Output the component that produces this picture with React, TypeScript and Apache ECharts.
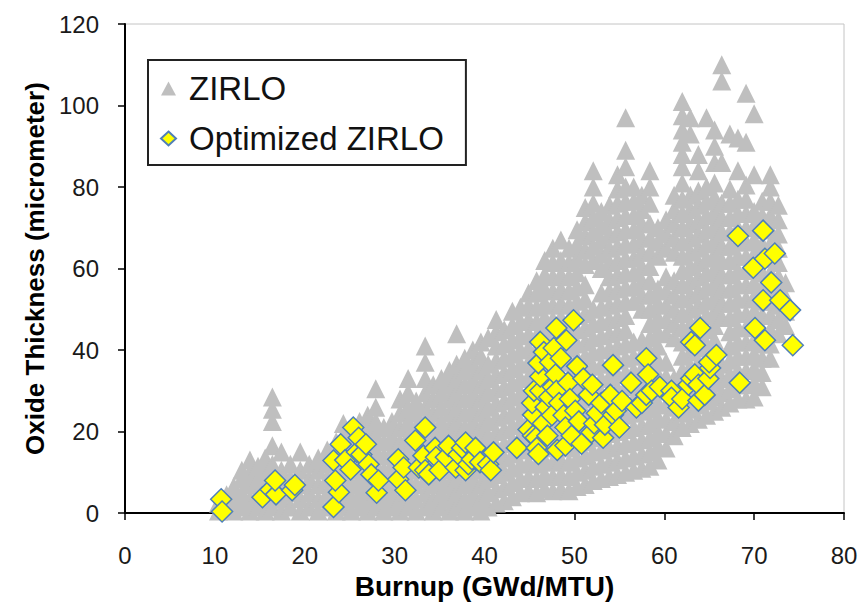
import React, { useEffect, useRef } from 'react'
import * as echarts from 'echarts'

// ZIRLO measurements, one column per burnup value: [burnup, [oxide thickness...]]
const zirloLow: [number, number[]][] = [
  [10.4, [0.5, 2.5]],
  [11.3, [1.5, 4.5]],
  [12.1, [0.5, 3.5, 6.5]],
  [13.0, [1.5, 5, 8.5, 10.5]],
  [13.9, [0.5, 3.5, 7, 10, 13]],
  [14.8, [1.5, 5, 8.5, 11.5]],
  [15.6, [0.5, 3.5, 7, 10, 13.5]],
  [16.4, [1.5, 5, 8.5, 12, 16.5, 22.5, 25.5, 28.5]],
  [17.4, [0.5, 3.5, 7, 10.5, 15]],
  [18.4, [1.5, 5, 8.5, 12]],
  [19.5, [0.5, 3.5, 7, 10.5, 15]],
  [20.5, [1.5, 5, 8.5, 12]],
  [21.5, [0.5, 3.5, 7, 10.5, 13.5]],
  [22.5, [1.5, 5, 8.5, 12, 15.5]],
  [23.5, [0.5, 3.5, 7, 10.5, 14, 17.5]],
  [24.3, [1.5, 5, 8.5, 12, 15.5, 19, 22]],
  [25.2, [0.5, 3.5, 7, 10.5, 14, 17.5, 20.5]],
  [26.1, [1.5, 5, 8.5, 12, 15.5, 19, 22.5]],
  [27.0, [0.5, 3.5, 7, 10.5, 14, 17.5, 21, 24]],
  [27.9, [1.5, 5, 8.5, 12, 15.5, 19, 22.5, 26, 30.5]],
  [28.8, [0.5, 3.5, 7, 10.5, 14, 17.5, 21]],
  [29.7, [1.5, 5, 8.5, 12, 15.5, 19, 22.5]],
]

const zirloMid: [number, number[]][] = [
  [30.6, [0.5, 3.5, 7, 10.5, 14, 17.5, 21, 24.5, 28]],
  [31.5, [1.5, 5, 8.5, 12, 15.5, 19, 22.5, 26, 29.5, 33]],
  [32.4, [0.5, 3.5, 7, 10.5, 14, 17.5, 21, 24.5, 27.5]],
  [33.4, [1.5, 5, 8.5, 12, 15.5, 19, 22.5, 26, 29.5, 33, 37, 41]],
  [34.3, [0.5, 3.5, 7, 10.5, 14, 17.5, 21, 24.5, 28, 31.5]],
  [35.2, [1.5, 5, 8.5, 12, 15.5, 19, 22.5, 26, 29.5, 33]],
  [36.1, [0.5, 3.5, 7, 10.5, 14, 17.5, 21, 24.5, 28, 31.5, 35]],
  [36.9, [1.5, 5, 8.5, 12, 15.5, 19, 22.5, 26, 29.5, 33, 36.5, 44]],
  [37.8, [0.5, 3.5, 7, 10.5, 14, 17.5, 21, 24.5, 28, 31.5, 35, 38]],
  [38.7, [1.5, 5, 8.5, 12, 15.5, 19, 22.5, 26, 29.5, 33, 36.5, 40]],
  [39.6, [0.5, 3.5, 7, 10.5, 14, 17.5, 21, 24.5, 28, 31.5, 35, 38.5, 42]],
  [40.4, [1.5, 5, 8.5, 12, 15.5, 19, 22.5, 26, 29.5, 33, 36.5, 43]],
  [41.3, [2.5, 6, 9.5, 13, 16.5, 20, 23.5, 27, 30.5, 34, 37.5, 41, 44.5, 47.5]],
  [42.2, [3, 6.5, 10, 13.5, 17, 20.5, 24, 27.5, 31, 34.5, 38, 41.5, 45]],
  [43.1, [4, 7.5, 11, 14.5, 18, 21.5, 25, 28.5, 32, 35.5, 39, 42.5, 46, 49.5]],
  [44.0, [5, 8.5, 12, 15.5, 19, 22.5, 26, 29.5, 33, 36.5, 40, 43.5, 47, 50.5]],
  [44.9, [5.5, 9, 12.5, 16, 19.5, 23, 26.5, 30, 33.5, 37, 40.5, 44, 47.5, 51, 54]],
  [45.8, [5, 8.5, 12, 15.5, 19, 22.5, 26, 29.5, 33, 36.5, 40, 43.5, 47, 50.5, 54, 57]],
  [46.7, [6, 9.5, 13, 16.5, 20, 23.5, 27, 30.5, 34, 37.5, 41, 44.5, 48, 51.5, 55, 58.5, 62]],
  [47.6, [5.5, 9, 12.5, 16, 19.5, 23, 26.5, 30, 33.5, 37, 40.5, 44, 47.5, 51, 54.5, 58, 61.5, 65]],
  [48.5, [6, 9.5, 13, 16.5, 20, 23.5, 27, 30.5, 34, 37.5, 41, 44.5, 48, 51.5, 55, 58.5, 62, 67]],
  [49.4, [5.5, 9, 12.5, 16, 19.5, 23, 26.5, 30, 33.5, 37, 40.5, 44, 47.5, 51, 54.5, 58, 61.5, 65]],
]

const zirloHigh: [number, number[]][] = [
  [50.3, [6.5, 10, 13.5, 17, 20.5, 24, 27.5, 31, 34.5, 38, 41.5, 45, 48.5, 52, 55.5, 59, 62.5, 66, 69.5]],
  [51.2, [7, 10.5, 14, 17.5, 21, 24.5, 28, 31.5, 35, 38.5, 42, 45.5, 49, 52.5, 56, 61, 64.5, 68, 71.5, 75]],
  [52.1, [8, 11.5, 15, 18.5, 22, 25.5, 29, 32.5, 36, 39.5, 43, 46.5, 50, 62, 65.5, 69, 72.5, 76, 80, 84]],
  [53.0, [8.5, 12, 15.5, 19, 22.5, 26, 29.5, 33, 36.5, 40, 43.5, 47, 50.5, 54, 60, 63.5, 67, 70.5, 74]],
  [53.9, [9, 12.5, 16, 19.5, 23, 26.5, 30, 33.5, 37, 40.5, 44, 47.5, 51, 54.5, 58, 61.5, 65, 68.5, 72, 75.5]],
  [54.8, [9.5, 13, 16.5, 20, 23.5, 27, 30.5, 34, 37.5, 41, 44.5, 48, 51.5, 55, 58.5, 62, 65.5, 69, 72.5, 76, 79.5, 83]],
  [55.7, [10, 13.5, 17, 20.5, 24, 27.5, 31, 34.5, 38, 41.5, 45, 48.5, 52, 55.5, 59, 62.5, 66, 69.5, 73, 76.5, 80, 85, 89, 97]],
  [56.6, [10.5, 14, 17.5, 21, 24.5, 28, 31.5, 35, 38.5, 42, 52, 55.5, 59, 62.5, 66, 69.5, 73, 76.5, 80]],
  [57.5, [11, 14.5, 18, 21.5, 25, 28.5, 32, 35.5, 39, 42.5, 50, 53.5, 57, 60.5, 64, 67.5, 71, 74.5, 78]],
  [58.4, [11.5, 15, 18.5, 22, 25.5, 29, 32.5, 36, 39.5, 43, 46.5, 50, 53.5, 57, 60.5, 64, 67.5, 71, 76, 80, 84]],
  [59.3, [13, 16.5, 20, 23.5, 27, 30.5, 34, 37.5, 41, 44.5, 48, 51.5, 55, 63, 66.5, 70]],
  [60.2, [16, 19.5, 23, 26.5, 30, 33.5, 37, 44, 47.5, 51, 54.5, 58, 65, 68.5, 72]],
  [61.1, [19, 22.5, 26, 29.5, 33, 43, 46.5, 50, 53.5, 57, 64, 67.5, 71, 74.5, 78]],
  [62.0, [21, 24.5, 28, 31.5, 35, 38.5, 42, 45.5, 49, 52.5, 56, 59.5, 63, 66.5, 70, 73.5, 77, 81, 85, 88, 91, 94, 97.5, 101]],
  [62.9, [22, 25.5, 29, 32.5, 36, 39.5, 43, 46.5, 50, 53.5, 57, 60.5, 64, 67.5, 71, 74.5, 78, 93, 97]],
  [63.8, [23, 26.5, 30, 33.5, 37, 40.5, 44, 47.5, 51, 54.5, 58, 61.5, 65, 68.5, 72, 75.5, 79, 84, 88]],
  [64.7, [24, 27.5, 31, 34.5, 38, 41.5, 45, 48.5, 52, 55.5, 59, 62.5, 66, 69.5, 73, 76.5, 80, 97]],
  [65.6, [25, 28.5, 32, 35.5, 39, 42.5, 46, 49.5, 53, 56.5, 60, 63.5, 67, 70.5, 74, 77.5, 81, 86, 90, 94]],
  [66.4, [26, 29.5, 33, 36.5, 48, 51.5, 55, 58.5, 62, 65.5, 69, 72.5, 76, 86, 106, 110]],
  [67.3, [27, 30.5, 34, 37.5, 41, 44.5, 48, 51.5, 55, 58.5, 62, 65.5, 69, 72.5, 76, 79.5, 93]],
  [68.2, [28, 31.5, 35, 38.5, 42, 45.5, 49, 52.5, 56, 59.5, 63, 66.5, 70, 73.5, 77, 84, 92]],
  [69.1, [28, 31.5, 35, 38.5, 42, 45.5, 49, 52.5, 56, 59.5, 63, 66.5, 70, 73.5, 77, 80.5, 91, 103]],
  [70.0, [28.5, 32, 35.5, 39, 42.5, 46, 49.5, 53, 56.5, 60, 63.5, 67, 70.5, 74, 83, 98]],
  [70.9, [31, 34.5, 38, 41.5, 45, 48.5, 52, 55.5, 59, 62.5, 66, 69.5, 73, 76.5]],
  [71.8, [38, 41.5, 45, 48.5, 52, 55.5, 59, 62.5, 66, 69.5, 73, 76.5, 80, 83]],
  [72.7, [44, 47.5, 51, 54.5, 58, 61.5, 65, 68.5, 72, 75.5]],
  [73.5, [46, 49.5, 53, 56.5]],
]

// Optimized ZIRLO measurements: [burnup, oxide thickness]
const optimizedLow: [number, number][] = [
  [10.7, 3.4], [10.8, 0.4], [15.3, 3.9], [16.2, 5.8], [16.8, 4.6], [16.7, 8.0], [18.6, 5.6], [18.9, 6.9],
  [23.2, 1.5], [23.8, 5.1], [23.4, 8.0], [23.2, 12.9], [24.0, 16.9], [24.5, 13.0], [25.1, 10.7], [25.4, 21.0],
  [25.8, 15.0], [26.0, 18.5], [26.3, 14.4], [26.8, 16.9], [27.1, 12.0], [27.4, 9.5], [28.0, 5.0], [28.2, 8.0],
]

const optimizedMid: [number, number][] = [
  [30.4, 13.2], [30.4, 8.3], [31.0, 11.2], [31.2, 5.6], [32.3, 17.8], [32.7, 11.2], [33.2, 14.1], [33.4, 21.0],
  [33.4, 10.5], [33.8, 9.5], [34.5, 16.0], [34.6, 13.7], [35.0, 10.5], [35.7, 13.7], [36.0, 16.5], [36.8, 11.2],
  [37.1, 14.4], [37.5, 16.0], [37.9, 17.3], [37.9, 10.5], [38.2, 12.0], [38.6, 13.2], [39.0, 16.0], [39.5, 12.5],
  [40.4, 12.0], [40.7, 10.5], [41.0, 14.9], [43.6, 16.0],
]

const optimizedHigh: [number, number][] = [
  [44.9, 20.5], [45.4, 19.0], [45.4, 24.1], [45.3, 27.0], [45.5, 30.0], [45.7, 18.5], [45.8, 16.0], [46.0, 14.5],
  [46.2, 30.0], [46.2, 33.5], [46.0, 36.8], [46.2, 42.0], [46.5, 22.0], [46.6, 39.5], [46.8, 26.0], [47.0, 19.0],
  [47.2, 28.5], [47.3, 37.0], [47.5, 24.0], [47.6, 31.0], [47.7, 40.5], [47.9, 34.0], [48.0, 45.4], [48.0, 30.0],
  [48.1, 15.5], [48.3, 27.0], [48.5, 38.0], [48.8, 24.0], [49.0, 21.0], [49.0, 16.6], [49.1, 42.4], [49.3, 32.0],
  [49.5, 28.0], [49.7, 19.0], [49.9, 47.3], [50.1, 25.1], [50.3, 36.0], [50.5, 22.5], [50.8, 17.0], [51.0, 33.0],
  [51.6, 29.0], [51.9, 19.8], [52.0, 31.5], [52.2, 22.0], [52.5, 24.5], [53.0, 27.0], [53.2, 18.5], [53.4, 21.7],
  [54.0, 29.0], [54.3, 36.3], [54.3, 24.1], [54.6, 25.1], [55.0, 21.0], [55.3, 27.5], [56.3, 32.0], [56.9, 25.9],
  [57.5, 27.0], [58.0, 38.0], [58.2, 34.0], [58.0, 29.0], [58.6, 30.0], [59.5, 31.0],
]

const optimizedTop: [number, number][] = [
  [60.8, 30.0], [60.8, 28.3], [61.6, 25.9], [62.0, 28.0], [62.7, 31.5], [63.0, 33.0], [63.4, 34.0], [63.0, 42.0],
  [63.4, 41.2], [63.8, 27.6], [63.8, 31.5], [64.0, 45.4], [64.5, 29.0], [64.9, 33.0], [65.1, 35.6], [65.0, 37.0],
  [65.8, 38.8], [68.4, 32.0], [70.1, 45.4], [71.2, 42.4], [74.3, 41.2], [69.9, 60.2], [71.2, 62.4], [72.3, 63.7],
  [71.9, 56.6], [71.0, 52.2], [72.9, 52.2], [74.0, 49.8], [68.2, 68.0], [71.0, 69.3],
]

const columnsToPoints = (cols: [number, number[]][]) =>
  cols.flatMap(([x, ys]) => ys.map((y) => [x, y]))

const FONT = '"Liberation Sans", Arial, sans-serif'

const App = () => {
  const chartRef = useRef<HTMLDivElement | null>(null)

  useEffect(() => {
    if (!chartRef.current) return
    document.body.style.margin = '0'

    const myChart = echarts.init(chartRef.current, null, { renderer: 'svg' })

    const zirlo = [...columnsToPoints(zirloLow), ...columnsToPoints(zirloMid), ...columnsToPoints(zirloHigh)]
    const optimized = [...optimizedLow, ...optimizedMid, ...optimizedHigh, ...optimizedTop]

    const option = {
      animation: false,
      backgroundColor: '#ffffff',
      textStyle: { fontFamily: FONT },
      legend: {
        orient: 'vertical',
        left: 148,
        top: 60,
        padding: [12, 22, 10, 12],
        itemWidth: 15,
        itemHeight: 14,
        itemGap: 17,
        borderColor: '#222',
        borderWidth: 2,
        textStyle: { fontSize: 33, color: '#111', fontFamily: FONT, padding: [0, 0, 0, 8] },
        data: ['ZIRLO', 'Optimized ZIRLO'],
      },
      grid: {
        left: 125,
        right: 18,
        top: 24,
        bottom: 89,
        show: true,
        borderColor: '#c4c4c4',
        borderWidth: 1,
      },
      xAxis: {
        type: 'value',
        min: 0,
        max: 80,
        interval: 10,
        name: 'Burnup (GWd/MTU)',
        nameLocation: 'middle',
        nameGap: 57,
        nameTextStyle: { fontSize: 28, fontWeight: 'bold', color: '#000', fontFamily: FONT },
        axisLine: { lineStyle: { color: '#000', width: 2 } },
        axisTick: { length: 7, lineStyle: { color: '#000', width: 1.5 } },
        axisLabel: { fontSize: 24, color: '#1a1a1a', margin: 30 },
        splitLine: { show: false },
      },
      yAxis: {
        type: 'value',
        min: 0,
        max: 120,
        interval: 20,
        name: 'Oxide Thickness (micrometer)',
        nameLocation: 'middle',
        nameGap: 77,
        nameTextStyle: { fontSize: 26, fontWeight: 'bold', color: '#000', fontFamily: FONT },
        axisLine: { show: true, lineStyle: { color: '#000', width: 2 } },
        axisTick: { show: true, length: 7, lineStyle: { color: '#000', width: 1.5 } },
        axisLabel: { fontSize: 24, color: '#1a1a1a', margin: 26 },
        splitLine: { show: false },
      },
      series: [
        {
          name: 'ZIRLO',
          type: 'scatter',
          symbol: 'triangle',
          symbolSize: [19, 19],
          data: zirlo,
          itemStyle: { color: '#bfbfbf', opacity: 1 },
          z: 2,
        },
        {
          name: 'Optimized ZIRLO',
          type: 'scatter',
          symbol: 'diamond',
          symbolSize: 21,
          data: optimized,
          itemStyle: { color: '#ffff00', borderColor: '#4f7fb8', borderWidth: 1.5, opacity: 1 },
          z: 3,
        },
      ],
    }

    myChart.setOption(option)

    return () => {
      myChart.dispose()
    }
  }, [])

  return <div ref={chartRef} style={{ width: 862, height: 605 }} />
}

export default App
